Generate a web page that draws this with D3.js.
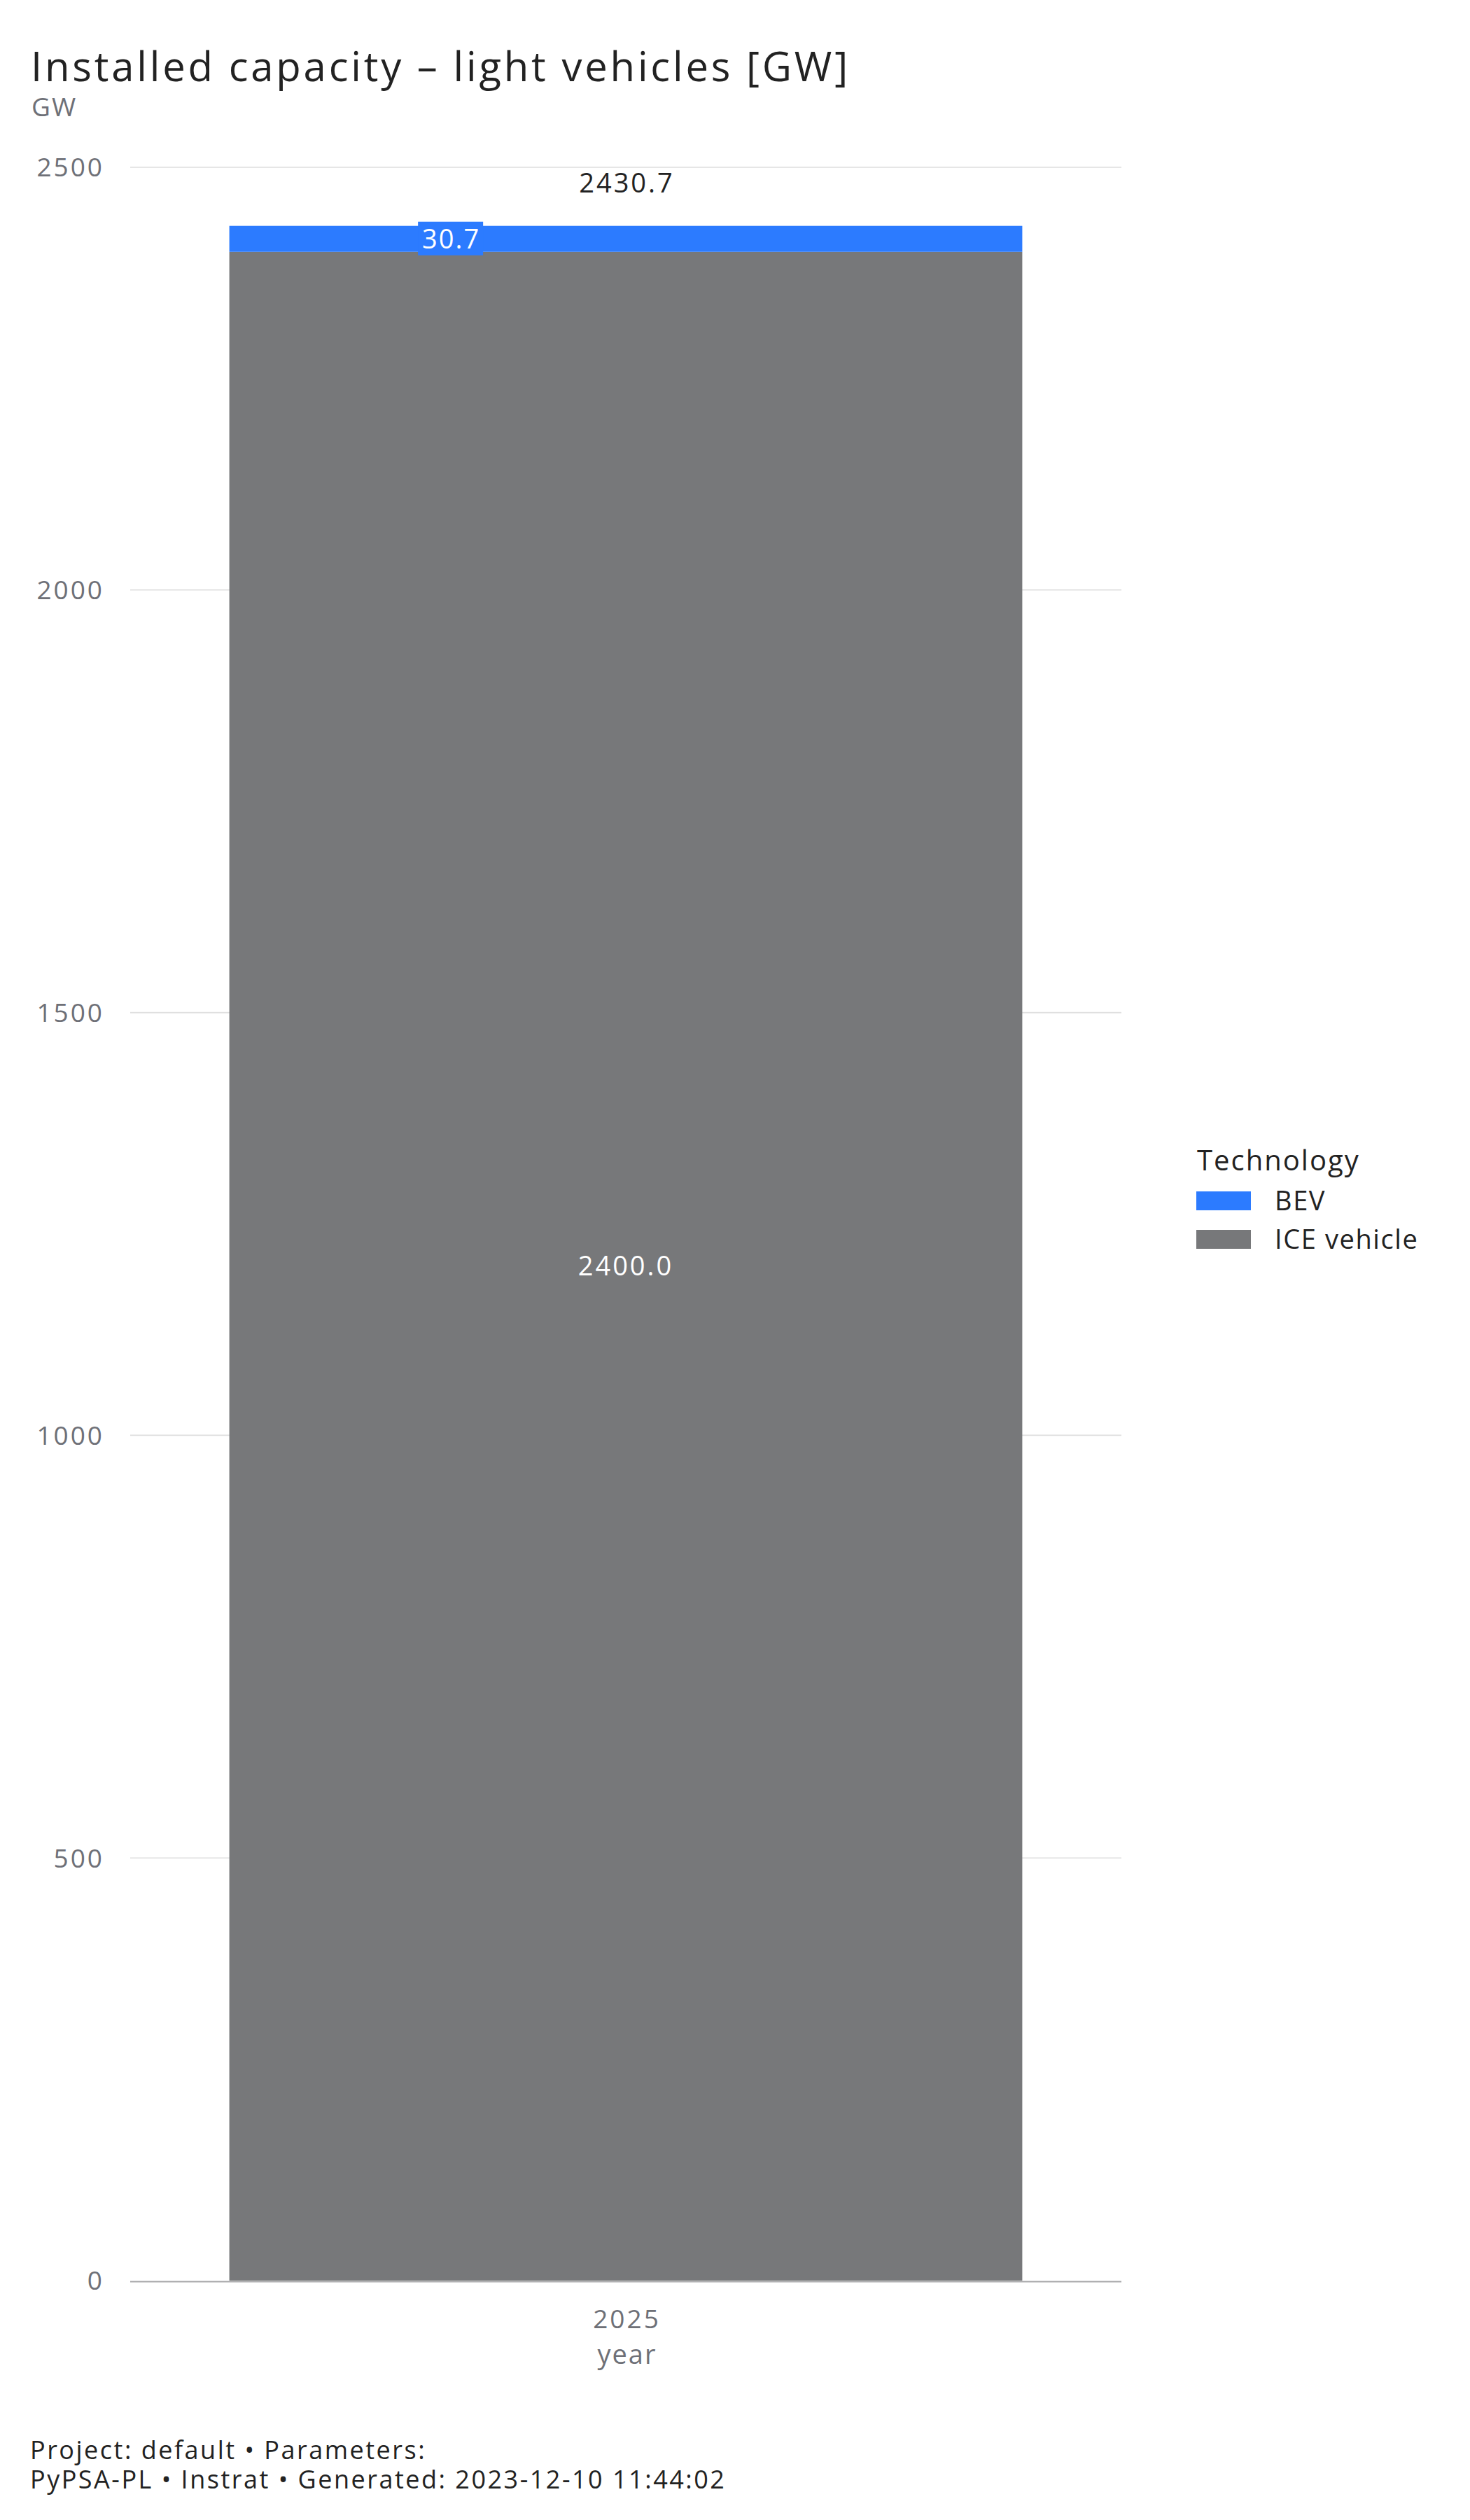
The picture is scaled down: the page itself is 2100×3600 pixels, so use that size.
<!DOCTYPE html>
<html><head><meta charset="utf-8">
<script src="https://cdn.jsdelivr.net/npm/d3@7"></script>
<style>body{margin:0;background:#fff}svg{display:block}text{font-family:"Open Sans",sans-serif}</style>
</head><body><svg id="c" width="2100" height="3600"></svg>
<script>
const years = ["2025"];
const technologies = ["BEV", "ICE vehicle"];
const colors = ["#2C7BFF", "#77787A"];
const bevValues = [30.7];
const iceValues = [2400.0];
const yTicks = [0, 500, 1000, 1500, 2000, 2500];
const title = "Installed capacity – light vehicles [GW]";
const footer = ["Project: default • Parameters:", "PyPSA-PL • Instrat • Generated: 2023-12-10 11:44:02"];

const svg = d3.select("#c");
const rows = years.map((y,i)=>({year:y, "ICE vehicle":iceValues[i], "BEV":bevValues[i]}));
const stack = d3.stack().keys(["ICE vehicle","BEV"])(rows);
const color = d3.scaleOrdinal().domain(technologies).range(colors);

const x = d3.scaleBand().domain(years).range([186,1602]).paddingInner(0.2).paddingOuter(0.1);
const y = d3.scaleLinear().domain([0,2500]).range([3258,239]);

// gridlines
svg.append("g").selectAll("line").data(yTicks.filter(t=>t>0)).join("line")
  .attr("x1",186).attr("x2",1602).attr("y1",d=>y(d)).attr("y2",d=>y(d))
  .attr("stroke","#dedede").attr("stroke-width",1.6);

// y axis labels
const yAxis = d3.axisLeft(y).tickValues(yTicks).tickSize(0).tickPadding(0).tickFormat(d3.format("d"));
const ga = svg.append("g").attr("transform","translate(146,0)").call(yAxis);
ga.select(".domain").remove();
ga.selectAll("text").attr("fill","#6e7077").style("font-size","37px").style("font-family","Open Sans")
  .style("letter-spacing","3px").attr("dx","3").attr("dy","0.35em");

// bars
svg.append("g").selectAll("g").data(stack).join("g").attr("fill",d=>color(d.key))
  .selectAll("rect").data(d=>d).join("rect")
  .attr("x",d=>x(d.data.year)).attr("width",x.bandwidth())
  .attr("y",d=>y(d[1])).attr("height",d=>y(d[0])-y(d[1]));

// zero line
svg.append("line").attr("x1",186).attr("x2",1602).attr("y1",y(0)+1.5).attr("y2",y(0)+1.5)
  .attr("stroke","#a7a7a9").attr("stroke-width",2.2);

rows.forEach(r=>{
  const cx = x(r.year)+x.bandwidth()/2;
  svg.append("text").attr("x",cx).attr("y",(y(0)+y(r["ICE vehicle"]))/2).attr("dy","0.35em")
    .attr("text-anchor","middle").attr("fill","#fff").style("font-size","38px").style("letter-spacing","3px")
    .text(d3.format(".1f")(r["ICE vehicle"]));
  // BEV label with box
  const bx = x(r.year)+x.bandwidth()*0.279;
  const by = (y(r["ICE vehicle"])+y(r["ICE vehicle"]+r.BEV))/2;
  svg.append("rect").attr("x",bx-46.5).attr("y",by-24.5).attr("width",93).attr("height",48).attr("fill",color("BEV"));
  svg.append("text").attr("x",bx+1).attr("y",by).attr("dy","0.35em").attr("text-anchor","middle")
    .attr("fill","#fff").style("font-size","38px").style("letter-spacing","2px").text(d3.format(".1f")(r.BEV));
  // total
  const tot = r["ICE vehicle"]+r.BEV;
  svg.append("text").attr("x",cx+1.5).attr("y",275).attr("text-anchor","middle").attr("fill","#222")
    .style("font-size","38px").style("letter-spacing","3px").text(d3.format(".1f")(tot));
});

// x axis
const xAxis = d3.axisBottom(x).tickSize(0).tickPadding(0);
const gx = svg.append("g").attr("transform","translate(0,3313)").call(xAxis);
gx.select(".domain").remove();
gx.selectAll("text").attr("dy","0.35em").attr("dx","1.5").attr("fill","#6e7077").style("font-size","37px")
  .style("font-family","Open Sans").style("letter-spacing","3px");
svg.append("text").attr("x",896).attr("y",3377).attr("text-anchor","middle").attr("fill","#6e7077")
  .style("font-size","38px").style("letter-spacing","2px").text("year");

// title
svg.append("text").attr("x",44).attr("y",116).attr("fill","#222").style("font-size","58px")
  .style("letter-spacing","3.8px").text(title);
svg.append("text").attr("x",45).attr("y",166).attr("fill","#6e7077").style("font-size","37px")
  .style("letter-spacing","2px").text("GW");

// legend
svg.append("text").attr("x",1710).attr("y",1672).attr("fill","#222").style("font-size","40px")
  .style("letter-spacing","2px").text("Technology");
const lg = svg.append("g").selectAll("g").data(technologies).join("g")
  .attr("transform",(d,i)=>`translate(1709,${1702+i*55})`);
lg.append("rect").attr("width",78).attr("height",27).attr("fill",d=>color(d));
lg.append("text").attr("x",112).attr("y",27).attr("fill","#222").style("font-size","38px")
  .style("letter-spacing","1.6px").text(d=>d);

// footer
svg.append("g").selectAll("text").data(footer).join("text")
  .attr("x",43).attr("y",(d,i)=>3513+i*42).attr("fill","#222").style("font-size","36px")
  .style("letter-spacing","2.5px").text(d=>d);
</script></body></html>
